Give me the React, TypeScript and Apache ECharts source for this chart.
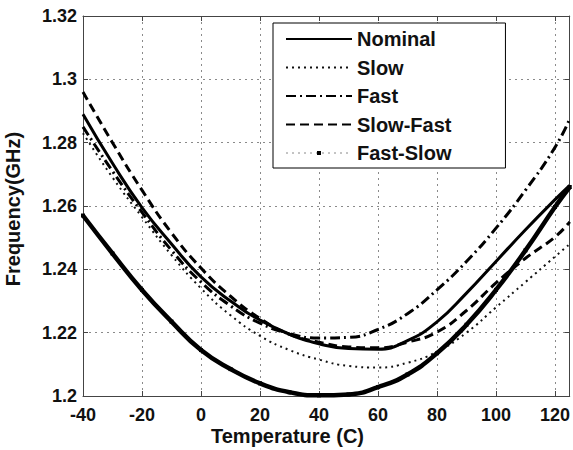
import React, { useEffect, useRef } from "react";
import * as echarts from "echarts";

const temps = [-40, -30, -20, -10, 0, 10, 20, 30, 40, 50, 60, 70, 80, 90, 100, 110, 120, 125];
const nominal = [1.289, 1.2735, 1.2595, 1.248, 1.2376, 1.23, 1.224, 1.2195, 1.2165, 1.215, 1.2148, 1.2175, 1.2234, 1.2325, 1.2425, 1.2525, 1.262, 1.2665];
const slow = [1.283, 1.269, 1.2565, 1.2445, 1.234, 1.2255, 1.219, 1.2145, 1.2115, 1.2095, 1.209, 1.2105, 1.214, 1.22, 1.228, 1.236, 1.244, 1.248];
const fast = [1.285, 1.271, 1.258, 1.246, 1.236, 1.2285, 1.223, 1.2197, 1.2183, 1.2185, 1.221, 1.226, 1.2335, 1.2425, 1.253, 1.265, 1.2785, 1.2875];
const slowFast = [1.296, 1.28, 1.265, 1.2515, 1.2404, 1.2315, 1.2245, 1.2195, 1.217, 1.2155, 1.2152, 1.217, 1.2202, 1.227, 1.2357, 1.2435, 1.2502, 1.255];
const fastSlow = [1.257, 1.245, 1.2335, 1.2235, 1.2145, 1.2085, 1.204, 1.2012, 1.2002, 1.2005, 1.2028, 1.2068, 1.2135, 1.2225, 1.2335, 1.246, 1.2597, 1.266];

const seriesNames = ["Nominal", "Slow", "Fast", "Slow-Fast", "Fast-Slow"];
const xTitle = "Temperature (C)";
const yTitle = "Frequency(GHz)";

const FONT = "'Liberation Sans', Arial, sans-serif";

const pairs = (ys: number[]) => temps.map((t, i) => [t, ys[i]]);

export default function App() {
  const ref = useRef<HTMLDivElement>(null);
  useEffect(() => {
    if (!ref.current) return;
    const chart = echarts.init(ref.current, undefined, { renderer: "svg" });
    const gridColor = "#8a8a8a";
    const axisCommon = {
      axisLine: { show: true, onZero: false, lineStyle: { color: "#444", width: 1 } },
      axisTick: { show: true, inside: true, length: 5, lineStyle: { color: "#444" } },
    };
    const labelStyle = { fontFamily: FONT, fontWeight: "bold" as const, fontSize: 18, color: "#111" };
    const hiddenSymbol = { color: "rgba(0,0,0,0)", borderWidth: 0, opacity: 0 };
    chart.setOption({
      animation: false,
      backgroundColor: "#fff",
      grid: { left: 83, right: 1, top: 16, bottom: 54, containLabel: false },
      legend: {
        orient: "vertical",
        left: 273,
        top: 23,
        padding: [6, 54, 5, 12],
        itemGap: 8.5,
        itemWidth: 66,
        itemHeight: 5,
        borderColor: "#000",
        borderWidth: 1,
        backgroundColor: "#fff",
        textStyle: { fontFamily: FONT, fontWeight: "bold", fontSize: 20, color: "#111", lineHeight: 20 },
        data: [
          { name: "Nominal", itemStyle: hiddenSymbol },
          { name: "Slow", itemStyle: hiddenSymbol },
          { name: "Fast", itemStyle: hiddenSymbol },
          { name: "Slow-Fast", itemStyle: hiddenSymbol },
          { name: "Fast-Slow", lineStyle: { type: [2, 4], width: 1, color: "#888" }, itemStyle: { color: "#000" } },
        ],
      },
      xAxis: [
        {
          type: "value",
          min: -40,
          max: 125,
          interval: 20,
          ...axisCommon,
          axisLabel: {
            ...labelStyle,
            margin: 10,
            showMaxLabel: false,
            formatter: (v: number) => (v === 125 ? "" : String(v)),
          },
          splitLine: { show: true, lineStyle: { color: gridColor, type: [2, 4], width: 1 } },
        },
        {
          type: "value",
          position: "top",
          min: -40,
          max: 125,
          interval: 20,
          ...axisCommon,
          axisLabel: { show: false },
          splitLine: { show: false },
        },
      ],
      yAxis: [
        {
          type: "value",
          min: 1.2,
          max: 1.32,
          interval: 0.02,
          ...axisCommon,
          axisLabel: {
            ...labelStyle,
            margin: 6,
            formatter: (v: number) => String(parseFloat(v.toFixed(2))),
          },
          splitLine: { show: true, lineStyle: { color: gridColor, type: [2, 4], width: 1 } },
        },
        {
          type: "value",
          position: "right",
          min: 1.2,
          max: 1.32,
          interval: 0.02,
          ...axisCommon,
          axisLabel: { show: false },
          splitLine: { show: false },
        },
      ],
      series: [
        {
          name: seriesNames[0],
          type: "line",
          data: pairs(nominal),
          smooth: true,
          symbol: "none",
          clip: false,
          lineStyle: { color: "#000", width: 3, type: "solid" },
          itemStyle: { color: "#000" },
        },
        {
          name: seriesNames[1],
          type: "line",
          data: pairs(slow),
          smooth: true,
          symbol: "none",
          clip: false,
          lineStyle: { color: "#111", width: 2, type: [2, 4] },
          itemStyle: { color: "#000" },
        },
        {
          name: seriesNames[2],
          type: "line",
          data: pairs(fast),
          smooth: true,
          symbol: "none",
          clip: false,
          lineStyle: { color: "#000", width: 3, type: [10, 4, 2, 4] },
          itemStyle: { color: "#000" },
        },
        {
          name: seriesNames[3],
          type: "line",
          data: pairs(slowFast),
          smooth: true,
          symbol: "none",
          clip: false,
          lineStyle: { color: "#000", width: 3, type: [9, 5] },
          itemStyle: { color: "#000" },
        },
        {
          name: seriesNames[4],
          type: "line",
          data: pairs(fastSlow),
          smooth: true,
          symbol: "rect",
          symbolSize: 4,
          clip: false,
          lineStyle: { color: "#000", width: 4.5, type: "solid" },
          itemStyle: { color: "#000" },
        },
      ],
      graphic: [
        {
          type: "text",
          left: 291 - 80,
          top: 426,
          style: { text: xTitle, font: `bold 20px ${FONT}`, fill: "#111", width: 160, align: "center" },
        },
        {
          type: "text",
          x: 13,
          y: 209,
          rotation: Math.PI / 2,
          style: {
            text: yTitle,
            font: `bold 20px ${FONT}`,
            fill: "#111",
            align: "center",
            verticalAlign: "middle",
          },
        },
      ],
    });
    return () => chart.dispose();
  }, []);
  return (
    <div
      ref={ref}
      style={{ position: "fixed", left: 0, top: 0, width: 573, height: 450, background: "#fff" }}
    />
  );
}
